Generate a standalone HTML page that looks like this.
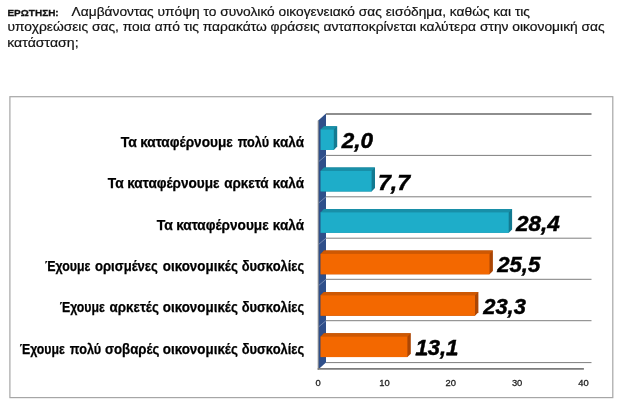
<!DOCTYPE html>
<html><head><meta charset="utf-8"><title>chart</title>
<style>html,body{margin:0;padding:0;background:#fff;width:620px;height:409px;overflow:hidden}</style></head>
<body>
<svg width="620" height="409" viewBox="0 0 620 409" style="position:absolute;left:0;top:0;font-family:'Liberation Sans',sans-serif;will-change:transform;filter:blur(0.35px)">
<rect width="620" height="409" fill="#fff"/>
<rect x="9.9" y="96.7" width="602.9" height="300.9" fill="#fff" stroke="#a6a6a6" stroke-width="1.2"/>
<line x1="326" y1="114.0" x2="591.5" y2="114.0" stroke="#8e8e8e" stroke-width="1.9"/>
<line x1="326" y1="155.4" x2="591.5" y2="155.4" stroke="#7e7e7e" stroke-width="1"/>
<line x1="326" y1="196.8" x2="591.5" y2="196.8" stroke="#7e7e7e" stroke-width="1"/>
<line x1="326" y1="238.2" x2="591.5" y2="238.2" stroke="#7e7e7e" stroke-width="1"/>
<line x1="326" y1="279.3" x2="591.5" y2="279.3" stroke="#7e7e7e" stroke-width="1"/>
<line x1="326" y1="320.7" x2="591.5" y2="320.7" stroke="#7e7e7e" stroke-width="1"/>
<line x1="326" y1="362.6" x2="591.5" y2="362.6" stroke="#7e7e7e" stroke-width="1"/>
<polygon points="318.2,120.6 326,113.4 326,362.5 318.2,369.5" fill="#2f4f8a"/>
<line x1="326" y1="155.4" x2="318.5" y2="161.8" stroke="#8093b8" stroke-width="0.8"/>
<line x1="326" y1="196.8" x2="318.5" y2="203.1" stroke="#8093b8" stroke-width="0.8"/>
<line x1="326" y1="238.2" x2="318.5" y2="244.5" stroke="#8093b8" stroke-width="0.8"/>
<line x1="326" y1="279.3" x2="318.5" y2="285.6" stroke="#8093b8" stroke-width="0.8"/>
<line x1="326" y1="320.7" x2="318.5" y2="327.0" stroke="#8093b8" stroke-width="0.8"/>
<line x1="318.2" y1="120.6" x2="318.2" y2="370" stroke="#8c8c8c" stroke-width="1"/>
<line x1="317.7" y1="368.9" x2="583.9" y2="368.9" stroke="#7c7c7c" stroke-width="1.9"/>
<polygon points="320.6,129.6 324.0,126.2 337.2,126.2 337.2,146.6 333.9,150.0 320.6,150.0" fill="#137a91"/>
<polygon points="320.6,130.1 320.6,129.6 324.0,126.2 337.2,126.2 333.9,129.6 333.9,130.1" fill="#188fa8"/>
<rect x="320.6" y="129.6" width="13.2" height="20.4" fill="#1eadc9"/>
<polygon points="320.6,171.0 324.0,167.6 375.0,167.6 375.0,188.0 371.6,191.4 320.6,191.4" fill="#137a91"/>
<polygon points="320.6,171.5 320.6,171.0 324.0,167.6 375.0,167.6 371.6,171.0 371.6,171.5" fill="#188fa8"/>
<rect x="320.6" y="171.0" width="51.0" height="20.4" fill="#1eadc9"/>
<polygon points="320.6,212.4 324.0,209.0 512.1,209.0 512.1,229.4 508.8,232.8 320.6,232.8" fill="#137a91"/>
<polygon points="320.6,212.9 320.6,212.4 324.0,209.0 512.1,209.0 508.8,212.4 508.8,212.9" fill="#188fa8"/>
<rect x="320.6" y="212.4" width="188.1" height="20.4" fill="#1eadc9"/>
<polygon points="320.6,253.9 324.0,250.5 492.9,250.5 492.9,270.9 489.5,274.3 320.6,274.3" fill="#ab4605"/>
<polygon points="320.6,254.4 320.6,253.9 324.0,250.5 492.9,250.5 489.5,253.9 489.5,254.4" fill="#cd5803"/>
<rect x="320.6" y="253.9" width="168.9" height="20.4" fill="#f36800"/>
<polygon points="320.6,295.3 324.0,291.9 478.4,291.9 478.4,312.3 475.0,315.7 320.6,315.7" fill="#ab4605"/>
<polygon points="320.6,295.8 320.6,295.3 324.0,291.9 478.4,291.9 475.0,295.3 475.0,295.8" fill="#cd5803"/>
<rect x="320.6" y="295.3" width="154.4" height="20.4" fill="#f36800"/>
<polygon points="320.6,336.7 324.0,333.3 410.8,333.3 410.8,353.7 407.4,357.1 320.6,357.1" fill="#ab4605"/>
<polygon points="320.6,337.2 320.6,336.7 324.0,333.3 410.8,333.3 407.4,336.7 407.4,337.2" fill="#cd5803"/>
<rect x="320.6" y="336.7" width="86.8" height="20.4" fill="#f36800"/>
<text class="v" x="341.73" y="148.1" font-size="22.8" font-weight="bold" font-style="italic" fill="#000" stroke="#000" stroke-width="0.5" textLength="31.27" lengthAdjust="spacingAndGlyphs">2,0</text>
<text class="v" x="378.04" y="189.6" font-size="22.8" font-weight="bold" font-style="italic" fill="#000" stroke="#000" stroke-width="0.5" textLength="32.10" lengthAdjust="spacingAndGlyphs">7,7</text>
<text class="v" x="515.89" y="231.0" font-size="22.8" font-weight="bold" font-style="italic" fill="#000" stroke="#000" stroke-width="0.5" textLength="43.81" lengthAdjust="spacingAndGlyphs">28,4</text>
<text class="v" x="497.23" y="272.4" font-size="22.8" font-weight="bold" font-style="italic" fill="#000" stroke="#000" stroke-width="0.5" textLength="42.98" lengthAdjust="spacingAndGlyphs">25,5</text>
<text class="v" x="483.19" y="313.9" font-size="22.8" font-weight="bold" font-style="italic" fill="#000" stroke="#000" stroke-width="0.5" textLength="42.66" lengthAdjust="spacingAndGlyphs">23,3</text>
<text class="v" x="415.50" y="355.4" font-size="22.8" font-weight="bold" font-style="italic" fill="#000" stroke="#000" stroke-width="0.5" textLength="42.82" lengthAdjust="spacingAndGlyphs">13,1</text>
<polygon points="415.3,355.6 415.9,353.3 427.5,353.3 426.9,355.6" fill="#000"/>
<polygon points="446.4,355.6 447.0,353.3 457.6,353.3 457.0,355.6" fill="#000"/>
<text x="120.70" y="147.0" font-size="13.8" font-weight="bold" fill="#000" stroke="#000" stroke-width="0.25" textLength="16.11" lengthAdjust="spacingAndGlyphs">Τα</text>
<text x="140.14" y="147.0" font-size="13.8" font-weight="bold" fill="#000" stroke="#000" stroke-width="0.25" textLength="92.61" lengthAdjust="spacingAndGlyphs">καταφέρνουμε</text>
<text x="237.70" y="147.0" font-size="13.8" font-weight="bold" fill="#000" stroke="#000" stroke-width="0.25" textLength="31.33" lengthAdjust="spacingAndGlyphs">πολύ</text>
<text x="272.78" y="147.0" font-size="13.8" font-weight="bold" fill="#000" stroke="#000" stroke-width="0.25" textLength="31.22" lengthAdjust="spacingAndGlyphs">καλά</text>
<text x="107.80" y="188.4" font-size="13.8" font-weight="bold" fill="#000" stroke="#000" stroke-width="0.25" textLength="15.85" lengthAdjust="spacingAndGlyphs">Τα</text>
<text x="127.24" y="188.4" font-size="13.8" font-weight="bold" fill="#000" stroke="#000" stroke-width="0.25" textLength="92.26" lengthAdjust="spacingAndGlyphs">καταφέρνουμε</text>
<text x="224.15" y="188.4" font-size="13.8" font-weight="bold" fill="#000" stroke="#000" stroke-width="0.25" textLength="44.51" lengthAdjust="spacingAndGlyphs">αρκετά</text>
<text x="272.78" y="188.4" font-size="13.8" font-weight="bold" fill="#000" stroke="#000" stroke-width="0.25" textLength="31.22" lengthAdjust="spacingAndGlyphs">καλά</text>
<text x="156.70" y="229.7" font-size="13.8" font-weight="bold" fill="#000" stroke="#000" stroke-width="0.25" textLength="16.11" lengthAdjust="spacingAndGlyphs">Τα</text>
<text x="176.14" y="229.7" font-size="13.8" font-weight="bold" fill="#000" stroke="#000" stroke-width="0.25" textLength="92.51" lengthAdjust="spacingAndGlyphs">καταφέρνουμε</text>
<text x="272.78" y="229.7" font-size="13.8" font-weight="bold" fill="#000" stroke="#000" stroke-width="0.25" textLength="31.22" lengthAdjust="spacingAndGlyphs">καλά</text>
<text x="45.05" y="271.1" font-size="13.8" font-weight="bold" fill="#000" stroke="#000" stroke-width="0.25" textLength="45.40" lengthAdjust="spacingAndGlyphs">Έχουμε</text>
<text x="94.99" y="271.1" font-size="13.8" font-weight="bold" fill="#000" stroke="#000" stroke-width="0.25" textLength="62.86" lengthAdjust="spacingAndGlyphs">ορισμένες</text>
<text x="162.80" y="271.1" font-size="13.8" font-weight="bold" fill="#000" stroke="#000" stroke-width="0.25" textLength="75.06" lengthAdjust="spacingAndGlyphs">οικονομικές</text>
<text x="241.65" y="271.1" font-size="13.8" font-weight="bold" fill="#000" stroke="#000" stroke-width="0.25" textLength="62.56" lengthAdjust="spacingAndGlyphs">δυσκολίες</text>
<text x="59.70" y="312.4" font-size="13.8" font-weight="bold" fill="#000" stroke="#000" stroke-width="0.25" textLength="45.10" lengthAdjust="spacingAndGlyphs">Έχουμε</text>
<text x="109.59" y="312.4" font-size="13.8" font-weight="bold" fill="#000" stroke="#000" stroke-width="0.25" textLength="49.29" lengthAdjust="spacingAndGlyphs">αρκετές</text>
<text x="162.80" y="312.4" font-size="13.8" font-weight="bold" fill="#000" stroke="#000" stroke-width="0.25" textLength="75.06" lengthAdjust="spacingAndGlyphs">οικονομικές</text>
<text x="241.65" y="312.4" font-size="13.8" font-weight="bold" fill="#000" stroke="#000" stroke-width="0.25" textLength="62.56" lengthAdjust="spacingAndGlyphs">δυσκολίες</text>
<text x="19.70" y="353.8" font-size="13.8" font-weight="bold" fill="#000" stroke="#000" stroke-width="0.25" textLength="45.10" lengthAdjust="spacingAndGlyphs">Έχουμε</text>
<text x="69.85" y="353.8" font-size="13.8" font-weight="bold" fill="#000" stroke="#000" stroke-width="0.25" textLength="31.36" lengthAdjust="spacingAndGlyphs">πολύ</text>
<text x="104.99" y="353.8" font-size="13.8" font-weight="bold" fill="#000" stroke="#000" stroke-width="0.25" textLength="54.37" lengthAdjust="spacingAndGlyphs">σοβαρές</text>
<text x="162.80" y="353.8" font-size="13.8" font-weight="bold" fill="#000" stroke="#000" stroke-width="0.25" textLength="75.06" lengthAdjust="spacingAndGlyphs">οικονομικές</text>
<text x="241.65" y="353.8" font-size="13.8" font-weight="bold" fill="#000" stroke="#000" stroke-width="0.25" textLength="62.56" lengthAdjust="spacingAndGlyphs">δυσκολίες</text>
<text x="318.2" y="385.6" font-size="9.4" fill="#222" stroke="#222" stroke-width="0.3" text-anchor="middle">0</text>
<text x="384.5" y="385.6" font-size="9.4" fill="#222" stroke="#222" stroke-width="0.3" text-anchor="middle">10</text>
<text x="450.8" y="385.6" font-size="9.4" fill="#222" stroke="#222" stroke-width="0.3" text-anchor="middle">20</text>
<text x="517.1" y="385.6" font-size="9.4" fill="#222" stroke="#222" stroke-width="0.3" text-anchor="middle">30</text>
<text x="583.4" y="385.6" font-size="9.4" fill="#222" stroke="#222" stroke-width="0.3" text-anchor="middle">40</text>
<text x="7.45" y="15.9" font-size="9.8" font-weight="bold" fill="#111" stroke="#111" stroke-width="0.3" textLength="51.25" lengthAdjust="spacingAndGlyphs">ΕΡΩΤΗΣΗ:</text>
<text x="71.6" y="15.9" font-size="13.2" fill="#111" stroke="#111" stroke-width="0.2" textLength="458.4" lengthAdjust="spacingAndGlyphs">Λαμβάνοντας υπόψη το συνολικό οικογενειακό σας εισόδημα, καθώς και τις</text>
<text x="7.45" y="31.3" font-size="13.2" fill="#111" stroke="#111" stroke-width="0.2" textLength="597.3" lengthAdjust="spacingAndGlyphs">υποχρεώσεις σας, ποια από τις παρακάτω φράσεις ανταποκρίνεται καλύτερα στην οικονομική σας</text>
<text x="7.2" y="46.7" font-size="13.2" fill="#111" stroke="#111" stroke-width="0.2" textLength="71.4" lengthAdjust="spacingAndGlyphs">κατάσταση;</text>
</svg>
</body></html>
